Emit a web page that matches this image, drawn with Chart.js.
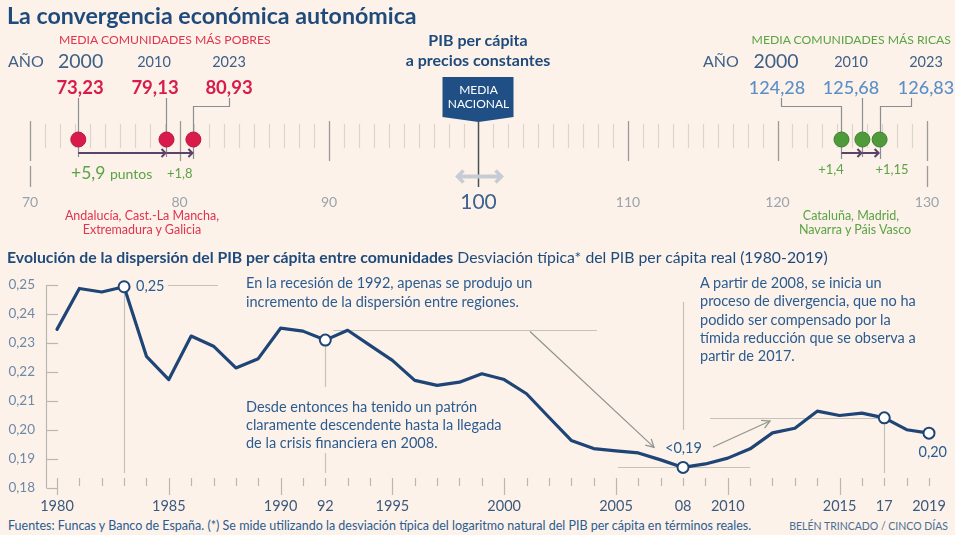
<!DOCTYPE html>
<html><head><meta charset="utf-8">
<script src="https://cdn.jsdelivr.net/npm/chart.js@4.4.1/dist/chart.umd.min.js"></script>
<style>
html,body{margin:0;padding:0;background:#fcf2e9;}
#wrap{position:relative;width:955px;height:535px;overflow:hidden;font-family:Lato,'Open Sans',sans-serif;background:#fcf2e9;}
canvas{position:absolute;left:0;}
.t{position:absolute;white-space:nowrap;line-height:1;}
</style></head><body>
<div id="wrap">
<canvas id="topChart" width="955" height="240" style="top:0;width:955px;height:240px"></canvas>
<canvas id="botChart" width="955" height="253" style="top:262px;width:955px;height:253px"></canvas>
</div>
<script>
// ---------- DATA ----------
const SNAP_YEARS = ['2000', '2010', '2023'];
const POOR = [73.23, 79.13, 80.93];
const RICH = [124.28, 125.68, 126.83];
const POOR_LABELS = ['73,23', '79,13', '80,93'];
const RICH_LABELS = ['124,28', '125,68', '126,83'];
const POOR_GAINS = ['+5,9', '+1,8'];
const RICH_GAINS = ['+1,4', '+1,15'];
const NATIONAL = 100;
const SCALE_TICKS = [70, 80, 90, 100, 110, 120, 130];

const YEARS = [1980,1981,1982,1983,1984,1985,1986,1987,1988,1989,
               1990,1991,1992,1993,1994,1995,1996,1997,1998,1999,
               2000,2001,2002,2003,2004,2005,2006,2007,2008,2009,
               2010,2011,2012,2013,2014,2015,2016,2017,2018,2019];
const DISPERSION = [0.2347,0.2488,0.2476,0.2494,0.2254,0.2174,0.2324,0.2289,0.2214,0.2246,
                    0.2351,0.2341,0.2310,0.2344,0.2292,0.2240,0.2171,0.2154,0.2165,0.2194,
                    0.2174,0.2125,0.2044,0.1964,0.1936,0.1928,0.1921,0.1897,0.1871,0.1883,
                    0.1903,0.1935,0.1990,0.2006,0.2065,0.2050,0.2058,0.2042,0.2001,0.1989];
const Y_TICKS = [0.18, 0.19, 0.20, 0.21, 0.22, 0.23, 0.24, 0.25];
const X_LABEL_YEARS = [1980, 1985, 1990, 1992, 1995, 2000, 2005, 2008, 2010, 2015, 2017, 2019];
const X_LABELS = ['1980', '1985', '1990', '92', '1995', '2000', '2005', '08', '2010', '2015', '17', '2019'];
const HIGHLIGHT_YEARS = [1983, 1992, 2008, 2017, 2019];

// ---------- STYLE ----------
const C = {
  title:'#1f4a7c', text:'#2b5c91', red:'#e0344f', redDot:'#d81b4a', green:'#5aa444', greenDot:'#4f9a3b',
  blue:'#5a8fc8', year:'#3d5f88', line:'#1f4476', gray:'#c6c1bb', dgray:'#8e9290', tick:'#9aa3ad'
};
Chart.defaults.font.family = 'Lato';
const wrap = document.getElementById('wrap');
function T(html, x, cy, size, color, o = {}) {
  const d = document.createElement('div');
  d.className = 't';
  d.innerHTML = html;
  d.style.left = x + 'px'; d.style.top = cy + 'px';
  d.style.fontSize = size + 'px'; d.style.color = color;
  if (o.w) d.style.fontWeight = o.w;
  const tx = o.a === 'c' ? '-50%' : o.a === 'r' ? '-100%' : '0';
  d.style.transform = `translate(${tx},-50%)`;
  wrap.appendChild(d);
  return d;
}
function seg(ctx, pts, color, w) {
  ctx.beginPath(); ctx.strokeStyle = color; ctx.lineWidth = w;
  ctx.moveTo(pts[0][0], pts[0][1]);
  for (let i = 1; i < pts.length; i++) ctx.lineTo(pts[i][0], pts[i][1]);
  ctx.stroke();
}
function chevron(ctx, x, y, dir, s, color, w) {
  seg(ctx, [[x - dir * s, y - s], [x, y], [x - dir * s, y + s]], color, w);
}
function arrowTo(ctx, x1, y1, x2, y2, color, w, s) {
  seg(ctx, [[x1, y1], [x2, y2]], color, w);
  const a = Math.atan2(y2 - y1, x2 - x1);
  seg(ctx, [[x2 - s * Math.cos(a - 0.5), y2 - s * Math.sin(a - 0.5)], [x2, y2],
            [x2 - s * Math.cos(a + 0.5), y2 - s * Math.sin(a + 0.5)]], color, w);
}

// ---------- TOP: number line ----------
const DOT_ROW = 141, ARROW_ROW = 153;
const topPlugin = {
  id: 'numberLine',
  beforeDatasetsDraw(chart) {
    const ctx = chart.ctx, x = chart.scales.x;
    ctx.save(); ctx.lineCap = 'butt';
    for (let v = 70; v <= 130; v++) {
      const px = Math.round(x.getPixelForValue(v)) + 0.5;
      if (v === NATIONAL) continue;
      if (v % 10 === 0) {
        seg(ctx, [[px, 121], [px, 161]], '#9b9a98', 1.3);
        if (v === 70 || v === 130) seg(ctx, [[px, 166], [px, 187]], '#9b9a98', 1.3);
      } else {
        seg(ctx, [[px, 124], [px, 148]], '#dcd5ce', 1.2);
      }
    }
    const nx = x.getPixelForValue(NATIONAL);
    ctx.beginPath(); ctx.fillStyle = '#1f4f85';
    ctx.moveTo(nx - 36, 77); ctx.lineTo(nx + 35, 77); ctx.lineTo(nx + 35, 117);
    ctx.lineTo(nx, 122); ctx.lineTo(nx - 36, 117); ctx.closePath(); ctx.fill();
    seg(ctx, [[nx, 122], [nx, 187]], '#4c5057', 1.5);
    seg(ctx, [[nx - 20, 176.5], [nx + 22, 176.5]], '#c7ccd4', 4);
    chevron(ctx, nx - 21, 176.5, -1, 6, '#c7ccd4', 3.5);
    chevron(ctx, nx + 23, 176.5, 1, 6, '#c7ccd4', 3.5);
    const lead = (vals, from) => vals.forEach((v, i) => {
      const px = Math.round(x.getPixelForValue(v)) + 0.5;
      if (from[i] == null) seg(ctx, [[px, 98], [px, 157]], '#8a8e94', 1.2);
      else seg(ctx, [[from[i] + 0.5, 98], [from[i] + 0.5, 106.5], [px, 106.5], [px, 159]], '#8a8e94', 1.2);
    });
    lead(POOR, [null, null, 229]);
    lead(RICH, [781, null, 911]);
    const arr = (vals) => {
      for (let i = 0; i < vals.length - 1; i++) {
        const a = x.getPixelForValue(vals[i]), b = x.getPixelForValue(vals[i + 1]);
        seg(ctx, [[a, ARROW_ROW], [b - 1, ARROW_ROW]], '#5a4268', 2);
        chevron(ctx, b - 1, ARROW_ROW, 1, 4, '#5a4268', 2);
      }
    };
    arr(POOR); arr(RICH);
    ctx.restore();
  }
};
const topChart = new Chart(document.getElementById('topChart'), {
  type: 'scatter',
  data: { datasets: [
    { data: POOR.map(v => ({ x: v, y: DOT_ROW })), pointRadius: 7.5, pointBackgroundColor: C.redDot, pointBorderColor: '#b81541', pointBorderWidth: 1 },
    { data: RICH.map(v => ({ x: v, y: DOT_ROW })), pointRadius: 7.5, pointBackgroundColor: C.greenDot, pointBorderColor: '#3f7f2e', pointBorderWidth: 1 }
  ]},
  options: {
    responsive: false, animation: false, events: [],
    layout: { padding: { left: 30, right: 28, top: 0, bottom: 0 } },
    plugins: { legend: { display: false }, tooltip: { enabled: false } },
    scales: {
      x: { type: 'linear', min: 70, max: 130, display: false },
      y: { type: 'linear', min: 0, max: 240, reverse: true, display: false }
    }
  },
  plugins: [topPlugin]
});

// ---------- BOTTOM: dispersion line ----------
const val = yr => DISPERSION[YEARS.indexOf(yr)];
const botPlugin = {
  id: 'annot',
  beforeDatasetsDraw(chart) {
    const ctx = chart.ctx, x = chart.scales.x, y = chart.scales.y, ca = chart.chartArea;
    const X = v => x.getPixelForValue(v), Y = v => y.getPixelForValue(v);
    ctx.save();
    const ax = Math.round(ca.left - 11) + 0.5;
    seg(ctx, [[ax, Y(0.25)], [ax, Y(0.18)]], '#bab6b1', 1.2);
    Y_TICKS.forEach(v => { const py = Math.round(Y(v)) + 0.5; seg(ctx, [[ax, py], [ca.left + 1, py]], '#bab6b1', 1.2); });
    YEARS.forEach(yr => {
      const px = Math.round(X(yr)) + 0.5;
      if (yr % 5 === 0) seg(ctx, [[px, ca.bottom - 10], [px, ca.bottom + 7]], '#bab6b1', 1.2);
      else seg(ctx, [[px, ca.bottom - 10], [px, ca.bottom - 2]], '#bab6b1', 1.2);
    });
    const lowLine = ca.bottom - 15;
    const x83 = Math.round(X(1983)) + 0.5;
    seg(ctx, [[x83, Y(val(1983))], [x83, lowLine]], C.gray, 1.2);
    seg(ctx, [[168, Math.round(Y(0.25)) + 0.5], [218, Math.round(Y(0.25)) + 0.5]], C.gray, 1.2);
    const x92 = Math.round(X(1992)) + 0.5;
    seg(ctx, [[x92, Y(val(1992))], [x92, 125]], C.gray, 1.2);
    seg(ctx, [[x92, 191], [x92, lowLine]], C.gray, 1.2);
    const y93 = Math.round(Y(val(1993))) + 0.5;
    seg(ctx, [[X(1992) + 8, y93], [597, y93]], C.gray, 1.2);
    arrowTo(ctx, 530, y93 + 1, X(2008) - 29, Y(val(2008)) - 20, C.dgray, 1.2, 9);
    const x08 = Math.round(X(2008)) + 0.5;
    seg(ctx, [[x08, 40], [x08, 168]], C.gray, 1.2);
    seg(ctx, [[x08, Y(val(2008))], [x08, lowLine]], C.gray, 1.2);
    const y08 = Math.round(Y(val(2008))) + 0.5;
    seg(ctx, [[X(2008) - 65, y08], [X(2008) + 67, y08]], C.gray, 1.2);
    arrowTo(ctx, 713, 185, 770, 159, '#8f988c', 1.3, 9);
    const y17 = Math.round(Y(val(2017))) + 0.5, x17 = Math.round(X(2017)) + 0.5;
    seg(ctx, [[710, y17], [x17, y17]], C.gray, 1.2);
    seg(ctx, [[x17, y17], [x17, lowLine]], C.gray, 1.2);
    ctx.restore();
  }
};
const botChart = new Chart(document.getElementById('botChart'), {
  type: 'line',
  data: { datasets: [{
    data: YEARS.map((yr, i) => ({ x: yr, y: DISPERSION[i] })),
    borderColor: C.line, borderWidth: 3.2, tension: 0, borderJoinStyle: 'round', borderCapStyle: 'round',
    pointRadius: c => HIGHLIGHT_YEARS.includes(YEARS[c.dataIndex]) ? 5.5 : 0,
    pointBackgroundColor: '#ffffff', pointBorderColor: C.line, pointBorderWidth: 2, clip: false
  }]},
  options: {
    responsive: false, animation: false, events: [],
    layout: { padding: { left: 8, right: 26, top: 23, bottom: 0 } },
    plugins: { legend: { display: false }, tooltip: { enabled: false } },
    scales: {
      x: { type: 'linear', min: 1980, max: 2019,
        afterFit: s => { s.height = 27; },
        afterBuildTicks: s => { s.ticks = X_LABEL_YEARS.map(v => ({ value: v })); },
        grid: { display: false, drawTicks: true, tickLength: 10 }, border: { display: false },
        ticks: { autoSkip: false, maxRotation: 0, padding: 0, color: '#3d5a7e', font: { size: 14.5 },
          callback: (v, i) => X_LABELS[i] } },
      y: { type: 'linear', min: 0.18, max: 0.25,
        afterFit: s => { s.width = 49; },
        afterBuildTicks: s => { s.ticks = Y_TICKS.map(v => ({ value: v })); },
        grid: { display: false, drawTicks: true, tickLength: 22 }, border: { display: false },
        ticks: { padding: 0, color: '#6e88a8', font: { size: 13.5 },
          callback: v => v.toFixed(2).replace('.', ',') } }
    }
  },
  plugins: [botPlugin]
});

// ---------- TEXT ----------
const tx = topChart.scales.x;
T('La convergencia económica autonómica', 7, 16, 23.2, C.title, { w: 700 });
T('MEDIA COMUNIDADES MÁS POBRES', 59, 40, 12.2, C.red);
T('AÑO', 8, 61, 16, C.year);
T(SNAP_YEARS[0], 58, 61, 19.5, C.year);
T(SNAP_YEARS[1], 154, 62, 14.5, C.year, { a: 'c' });
T(SNAP_YEARS[2], 229, 62, 14.5, C.year, { a: 'c' });
T(POOR_LABELS[0], 80, 87, 18.5, C.redDot, { a: 'c', w: 700 });
T(POOR_LABELS[1], 155, 87, 18.5, C.redDot, { a: 'c', w: 700 });
T(POOR_LABELS[2], 229, 87, 18.5, C.redDot, { a: 'c', w: 700 });
T(POOR_GAINS[0] + ' <span style="font-size:14px">puntos</span>', 71, 173, 17.5, C.green);
T(POOR_GAINS[1], 167, 173, 13, C.green);
T('Andalucía, Cast.-La Mancha,', 142, 216, 12.5, C.red, { a: 'c' });
T('Extremadura y Galicia', 142, 230, 12.5, C.red, { a: 'c' });
T('PIB per cápita', 478, 40, 16, C.title, { a: 'c', w: 700 });
T('a precios constantes', 478, 60, 16, C.title, { a: 'c', w: 700 });
T('MEDIA', tx.getPixelForValue(NATIONAL), 90, 12, '#ffffff', { a: 'c' });
T('NACIONAL', tx.getPixelForValue(NATIONAL), 104, 12, '#ffffff', { a: 'c' });
T('MEDIA COMUNIDADES MÁS RICAS', 951, 40, 12.2, C.green, { a: 'r' });
T('AÑO', 703, 61, 16, C.year);
T(SNAP_YEARS[0], 776, 61, 19.5, C.year, { a: 'c' });
T(SNAP_YEARS[1], 851, 62, 14.5, C.year, { a: 'c' });
T(SNAP_YEARS[2], 926, 62, 14.5, C.year, { a: 'c' });
T(RICH_LABELS[0], 777, 87, 18, C.blue, { a: 'c', w: 500 });
T(RICH_LABELS[1], 851, 87, 18, C.blue, { a: 'c', w: 500 });
T(RICH_LABELS[2], 926, 87, 18, C.blue, { a: 'c', w: 500 });
T(RICH_GAINS[0], 831, 169, 13, C.green, { a: 'c' });
T(RICH_GAINS[1], 892, 169, 13, C.green, { a: 'c' });
T('Cataluña, Madrid,', 851, 216, 12.5, C.green, { a: 'c' });
T('Navarra y Páis Vasco', 855, 230, 12.5, C.green, { a: 'c' });
SCALE_TICKS.forEach(v => {
  if (v === NATIONAL) T(String(v), tx.getPixelForValue(v), 200, 21, '#3e6391', { a: 'c' });
  else T(String(v), tx.getPixelForValue(v), 202, 14, C.tick, { a: 'c' });
});
T('<b style="font-weight:700">Evolución de la dispersión del PIB per cápita entre comunidades</b> Desviación típica* del PIB per cápita real (1980-2019)', 7, 257, 15.8, C.title);
T('0,25', 136, 286, 14.5, C.text);
T('En la recesión de 1992, apenas se produjo un', 246, 283, 14.5, C.text);
T('incremento de la dispersión entre regiones.', 246, 302, 14.5, C.text);
T('Desde entonces ha tenido un patrón', 246, 407, 14.5, C.text);
T('claramente descendente hasta la llegada', 246, 425, 14.5, C.text);
T('de la crisis financiera en 2008.', 246, 443, 14.5, C.text);
T('A partir de 2008, se inicia un', 700, 283, 14.5, C.text);
T('proceso de divergencia, que no ha', 700, 301, 14.5, C.text);
T('podido ser compensado por la', 700, 320, 14.5, C.text);
T('tímida reducción que se observa a', 700, 338, 14.5, C.text);
T('partir de 2017.', 700, 356, 14.5, C.text);
T('&lt;0,19', 665, 448, 14.5, C.text);
T('0,20', 947, 452, 14.5, C.text, { a: 'r' });
T('Fuentes: Funcas y Banco de España. (*) Se mide utilizando la desviación típica del logaritmo natural del PIB per cápita en términos reales.', 8, 526, 12.5, C.text);
T('BELÉN TRINCADO / CINCO DÍAS', 948, 526, 10.5, '#4a6e96', { a: 'r' });
</script>
</body></html>
